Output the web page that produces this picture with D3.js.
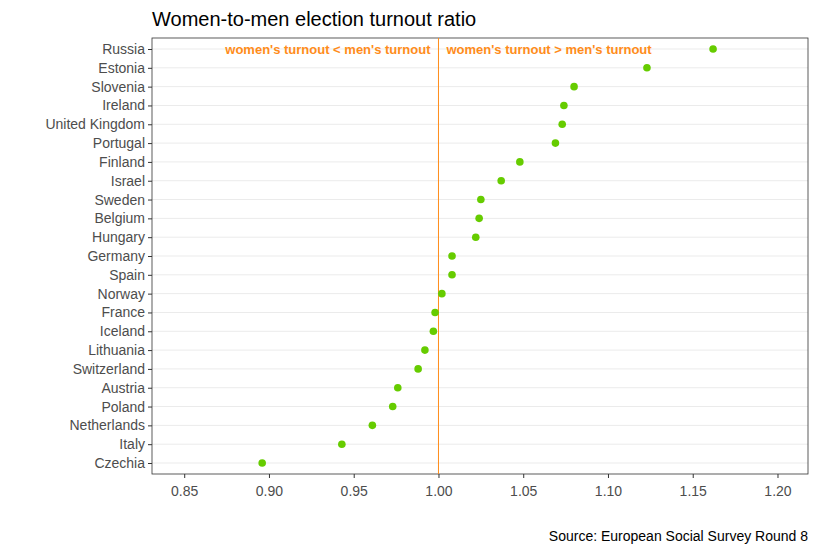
<!DOCTYPE html>
<html><head><meta charset="utf-8">
<script src="https://cdn.jsdelivr.net/npm/d3@7"></script>
<style>body{margin:0;background:#fff;font-family:"Liberation Sans",Arial,sans-serif;}</style>
</head><body><div id="chart"></div>
<script>
var countries = ["Russia","Estonia","Slovenia","Ireland","United Kingdom","Portugal","Finland","Israel","Sweden","Belgium","Hungary","Germany","Spain","Norway","France","Iceland","Lithuania","Switzerland","Austria","Poland","Netherlands","Italy","Czechia"];
var ratios = [1.162,1.123,1.080,1.074,1.073,1.069,1.048,1.037,1.025,1.024,1.022,1.008,1.008,1.002,0.998,0.997,0.992,0.988,0.976,0.973,0.961,0.943,0.896];
var xTicks = [0.85,0.90,0.95,1.00,1.05,1.10,1.15,1.20];

var svgWidth = 818, svgHeight = 553;
var margin = {top: 38, right: 10, bottom: 79, left: 152};
var chartWidth = svgWidth - margin.left - margin.right;
var chartHeight = svgHeight - margin.top - margin.bottom;

var svg = d3.select("#chart").append("svg").attr("width", svgWidth).attr("height", svgHeight);
var chartGroup = svg.append("g").attr("transform", `translate(${margin.left}, ${margin.top})`);

var x = d3.scaleLinear().domain([0.831, 1.218]).range([0, chartWidth]);
var y = d3.scalePoint().domain(countries).range([11, chartHeight - 11]);

// gridlines
chartGroup.selectAll(".grid").data(countries).enter().append("line")
    .attr("x1", 0).attr("x2", chartWidth)
    .attr("y1", d => y(d)).attr("y2", d => y(d))
    .attr("stroke", "#ebebeb").attr("stroke-width", 1);

// border
chartGroup.append("rect").attr("width", chartWidth).attr("height", chartHeight)
    .attr("fill", "none").attr("stroke", "#333").attr("stroke-width", 0.8);

// reference line
chartGroup.append("line").attr("x1", x(1)).attr("x2", x(1)).attr("y1", 0).attr("y2", chartHeight)
    .attr("stroke", "#ff8c1a").attr("stroke-width", 1);

chartGroup.append("text").attr("x", x(1) - 8).attr("y", y("Russia") + 5)
    .attr("text-anchor", "end").attr("fill", "#ff8c1a").style("font-weight", "bold").style("font-size", "13px")
    .text("women's turnout < men's turnout");
chartGroup.append("text").attr("x", x(1) + 8).attr("y", y("Russia") + 5)
    .attr("fill", "#ff8c1a").style("font-weight", "bold").style("font-size", "13px")
    .text("women's turnout > men's turnout");

// points
chartGroup.selectAll("circle").data(countries).enter().append("circle")
    .attr("cx", (d, i) => x(ratios[i])).attr("cy", d => y(d))
    .attr("r", 3.8).attr("fill", "#66cc00");

// axes
var bottomAxis = d3.axisBottom(x).tickValues(xTicks).tickFormat(d3.format(".2f")).tickSize(4).tickSizeOuter(0);
var gx = chartGroup.append("g").attr("transform", `translate(0, ${chartHeight})`).call(bottomAxis);
gx.select(".domain").remove();
gx.selectAll("text").attr("fill", "#4d4d4d").style("font-size", "14px").attr("dy", "1.1em");
gx.selectAll("line").attr("stroke", "#333");

var leftAxis = d3.axisLeft(y).tickSize(4);
var gy = chartGroup.append("g").call(leftAxis);
gy.select(".domain").remove();
gy.selectAll("text").attr("fill", "#4d4d4d").style("font-size", "14px");
gy.selectAll("line").attr("stroke", "#333");

svg.append("text").attr("x", 152).attr("y", 26).style("font-size", "20px").attr("fill", "#000")
    .text("Women-to-men election turnout ratio");
svg.append("text").attr("x", 808).attr("y", 541).attr("text-anchor", "end").style("font-size", "14px").attr("fill", "#000")
    .text("Source: European Social Survey Round 8");
</script></body></html>
